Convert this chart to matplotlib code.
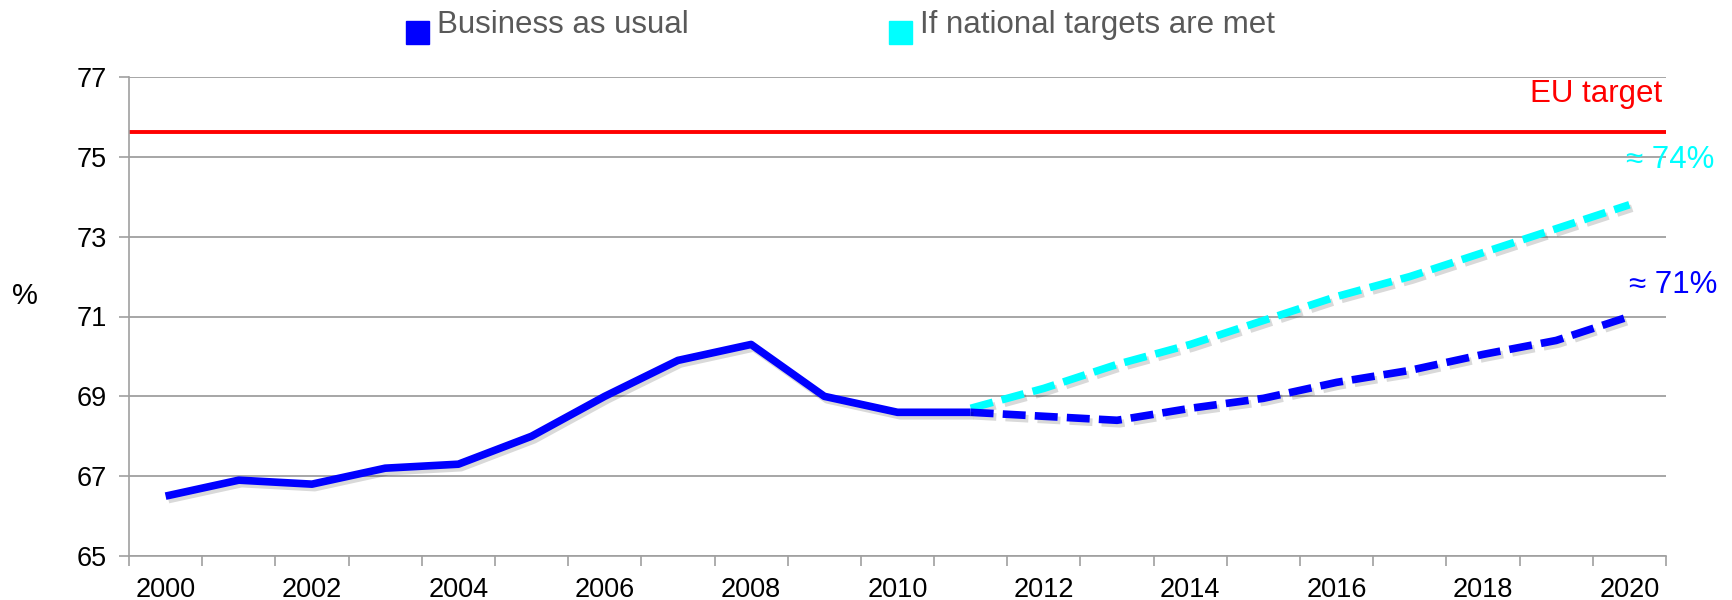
import matplotlib
matplotlib.use("Agg")
import matplotlib.pyplot as plt
import matplotlib.patheffects as pe
from matplotlib.patches import Rectangle

plt.rcParams['font.family'] = ['Liberation Sans', 'DejaVu Sans']

# category axis: one slot per year
years = list(range(2000, 2021))
tick_years = years[::2]

# observed employment rate 2000-2011
hist_years = list(range(2000, 2012))
hist_vals = [66.5, 66.9, 66.8, 67.2, 67.3, 68.0, 69.0, 69.9, 70.3, 69.0, 68.6, 68.6]

# projections 2011-2020
proj_years = list(range(2011, 2021))
bau_vals = [68.6, 68.5, 68.4, 68.7, 68.95, 69.35, 69.65, 70.05, 70.4, 71.0]
nat_vals = [68.7, 69.2, 69.8, 70.3, 70.9, 71.5, 72.0, 72.6, 73.2, 73.8]

eu_target = 75.63

W, H = 1732, 600
fig = plt.figure(figsize=(W / 100, H / 100), dpi=100)
ax = fig.add_axes([129 / W, 1 - 556 / H, (1666 - 129) / W, (556 - 77) / H])

def idx(ys):
    return [years.index(y) for y in ys]

# soft drop shadow under the data lines
shadow = [pe.SimpleLineShadow(offset=(2, -2.5), shadow_color="black", alpha=0.15), pe.Normal()]

ax.axhline(eu_target, color="#ff0000", lw=2.8, zorder=2)
ax.plot(idx(proj_years), nat_vals, color="#00ffff", lw=5.5, dashes=(3, 1.2),
        dash_capstyle="butt", path_effects=shadow, zorder=3)
ax.plot(idx(proj_years), bau_vals, color="#0000ff", lw=5.5, dashes=(3, 1.2),
        dash_capstyle="butt", path_effects=shadow, zorder=4)
ax.plot(idx(hist_years), hist_vals, color="#0000ff", lw=5.5, solid_capstyle="butt",
        solid_joinstyle="round", path_effects=shadow, zorder=5)

ax.set_xlim(-0.5, len(years) - 0.5)
ax.set_ylim(65, 77)
ax.set_yticks(range(65, 78, 2))
ax.set_xticks([years.index(y) for y in tick_years])
ax.set_xticklabels([str(y) for y in tick_years])
ax.set_xticks([i - 0.5 for i in range(len(years) + 1)], minor=True)
ax.tick_params(axis="x", which="major", length=0, pad=15, labelsize=19.5)
ax.tick_params(axis="x", which="minor", length=7, width=1.2, color="#a0a0a0", direction="out")
ax.tick_params(axis="y", which="major", length=7, width=1.2, color="#a0a0a0", pad=9, labelsize=19.5)

ax.grid(axis="y", color="#a6a6a6", lw=1.4, zorder=0)
ax.set_axisbelow(True)
for s in ["top", "right"]:
    ax.spines[s].set_visible(False)
for s in ["left", "bottom"]:
    ax.spines[s].set_color("#a0a0a0")
    ax.spines[s].set_linewidth(1.2)

# annotations
fig.text(1662 / W, 1 - 94 / H, "EU target", color="#ff0000", fontsize=22.5, ha="right", va="center")
fig.text(1714 / W, 1 - 160 / H, "≈ 74%", color="#00ffff", fontsize=22.5, ha="right", va="center")
fig.text(1717 / W, 1 - 285 / H, "≈ 71%", color="#0000ff", fontsize=22.5, ha="right", va="center")
fig.text(25 / W, 1 - 296 / H, "%", fontsize=21, ha="center", va="center")

# legend drawn by hand
leg = [("Business as usual", "#0000ff", 406), ("If national targets are met", "#00ffff", 889)]
for label, col, x0 in leg:
    fig.patches.append(Rectangle((x0 / W, 1 - 44 / H), 23 / W, 23 / H,
                                 transform=fig.transFigure, color=col, figure=fig))
    fig.text((x0 + 31) / W, 1 - 33 / H, label, color="#595959", fontsize=22.5,
             ha="left", va="baseline")

fig.savefig("out.png", dpi=100)
